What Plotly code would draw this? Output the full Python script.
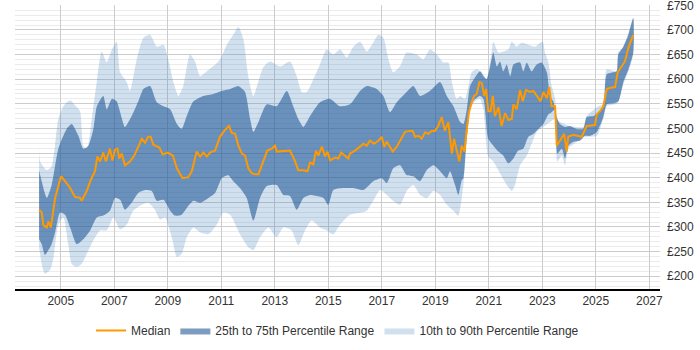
import plotly.graph_objects as go

# ---- data (year as decimal, value in GBP) ----
median_dates = [2004.19, 2004.29, 2004.35, 2004.48, 2004.54, 2004.63, 2004.79, 2004.91, 2005.01, 2005.16,
                2005.35, 2005.53, 2005.72, 2005.78, 2005.97, 2006.12, 2006.28, 2006.37, 2006.47, 2006.59,
                2006.69, 2006.84, 2006.93, 2007.03, 2007.12, 2007.19, 2007.28, 2007.40, 2007.59, 2007.75,
                2007.90, 2008.03, 2008.15, 2008.27, 2008.36, 2008.46, 2008.69, 2008.81, 2009.00, 2009.19,
                2009.34, 2009.55, 2009.77, 2009.90, 2010.08, 2010.21, 2010.33, 2010.46, 2010.58, 2010.77,
                2010.95, 2011.14, 2011.29, 2011.39, 2011.52, 2011.64, 2011.77, 2011.89, 2012.01, 2012.14,
                2012.26, 2012.39, 2012.57, 2012.72, 2012.89, 2013.01, 2013.07, 2013.45, 2013.57, 2013.76,
                2013.88, 2014.07, 2014.22, 2014.32, 2014.44, 2014.54, 2014.63, 2014.76, 2014.88, 2014.97,
                2015.07, 2015.25, 2015.38, 2015.48, 2015.63, 2015.75, 2015.81, 2016.00, 2016.19, 2016.31,
                2016.44, 2016.56, 2016.71, 2016.87, 2017.00, 2017.09, 2017.19, 2017.28, 2017.41, 2017.56,
                2017.75, 2017.87, 2018.06, 2018.16, 2018.24, 2018.37, 2018.49, 2018.62, 2018.74, 2018.87,
                2018.99, 2019.11, 2019.24, 2019.36, 2019.49, 2019.62, 2019.70, 2019.80, 2019.90, 2019.99,
                2020.09, 2020.18, 2020.26, 2020.36, 2020.45, 2020.55, 2020.65, 2020.74, 2020.83, 2020.90,
                2020.98, 2021.07, 2021.15, 2021.23, 2021.36, 2021.48, 2021.61, 2021.73, 2021.86, 2021.92,
                2022.04, 2022.17, 2022.27, 2022.39, 2022.54, 2022.67, 2022.79, 2022.94, 2023.04, 2023.17,
                2023.26, 2023.35, 2023.48, 2023.54, 2023.66, 2023.82, 2023.91, 2023.97, 2024.16, 2024.47,
                2024.66, 2024.97, 2025.04, 2025.16, 2025.28, 2025.41, 2025.53, 2025.72, 2025.82, 2025.97,
                2026.09, 2026.22, 2026.40]
median_values = [335, 329, 303, 299, 311, 299, 359, 385, 403, 393,
                 379, 361, 359, 353, 373, 395, 413, 443, 433, 451,
                 433, 459, 435, 457, 459, 439, 449, 425, 433, 445,
                 463, 479, 471, 483, 483, 467, 461, 447, 451, 445,
                 419, 399, 401, 413, 453, 443, 451, 443, 451, 455,
                 483, 497, 505, 491, 489, 465, 449, 445, 419, 409,
                 407, 407, 433, 455, 459, 465, 453, 455, 455, 433,
                 415, 415, 413, 431, 427, 455, 445, 463, 443, 453,
                 435, 441, 439, 451, 445, 439, 449, 455, 463, 469,
                 465, 475, 469, 475, 483, 463, 473, 465, 453, 463,
                 480, 493, 495, 495, 483, 485, 479, 492, 489, 495,
                 495, 505, 523, 495, 513, 449, 479, 455, 433, 465,
                 453, 499, 533, 553, 566, 570, 594, 592, 566, 580,
                 535, 535, 566, 525, 543, 505, 531, 517, 519, 549,
                 539, 578, 555, 578, 574, 576, 566, 555, 574, 561,
                 584, 545, 545, 465, 475, 489, 453, 483, 487, 483,
                 505, 507, 529, 535, 545, 580, 582, 584, 614, 626,
                 636, 664, 690]

p75_dates = [2004.19, 2004.48, 2004.66, 2004.91, 2005.22, 2005.41, 2005.66, 2005.84, 2006.03, 2006.22,
             2006.35, 2006.59, 2006.72, 2006.91, 2007.09, 2007.22, 2007.40, 2007.65, 2007.90, 2008.09,
             2008.34, 2008.59, 2008.84, 2009.09, 2009.34, 2009.52, 2009.71, 2009.96, 2010.33, 2010.70,
             2011.02, 2011.33, 2011.64, 2011.70, 2011.89, 2012.08, 2012.20, 2012.39, 2012.70, 2013.07,
             2013.45, 2013.69, 2013.88, 2014.07, 2014.32, 2014.69, 2015.07, 2015.44, 2015.81, 2016.19,
             2016.44, 2016.81, 2017.06, 2017.31, 2017.56, 2017.93, 2018.18, 2018.43, 2018.80, 2019.18,
             2019.43, 2019.68, 2019.93, 2020.05, 2020.18, 2020.30, 2020.49, 2020.67, 2020.80, 2020.92,
             2021.05, 2021.17, 2021.30, 2021.42, 2021.54, 2021.67, 2021.80, 2021.92, 2022.17, 2022.29,
             2022.42, 2022.60, 2022.79, 2022.98, 2023.17, 2023.29, 2023.41, 2023.54, 2023.66, 2023.85,
             2024.03, 2024.29, 2024.53, 2024.66, 2024.91, 2025.10, 2025.28, 2025.41, 2025.66, 2025.78,
             2025.84, 2026.03, 2026.22, 2026.40]
p75_values = [415, 359, 385, 459, 499, 509, 485, 459, 465, 499,
              545, 566, 539, 560, 555, 533, 503, 525, 555, 580,
              586, 553, 545, 539, 509, 499, 525, 555, 566, 570,
              576, 580, 586, 584, 574, 519, 493, 513, 549, 545,
              576, 545, 519, 503, 525, 553, 560, 545, 549, 576,
              586, 580, 566, 533, 553, 574, 586, 566, 576, 594,
              566, 545, 513, 509, 539, 586, 604, 616, 606, 600,
              626, 654, 626, 636, 616, 630, 606, 630, 634, 616,
              634, 616, 630, 634, 614, 566, 555, 523, 509, 503,
              505, 499, 499, 523, 525, 533, 543, 610, 614, 616,
              650, 666, 690, 724]

p25_dates = [2004.19, 2004.29, 2004.41, 2004.54, 2004.66, 2004.79, 2004.97, 2005.16, 2005.35, 2005.60,
             2005.84, 2006.10, 2006.35, 2006.59, 2006.84, 2007.03, 2007.22, 2007.40, 2007.65, 2007.90,
             2008.15, 2008.40, 2008.59, 2008.84, 2009.09, 2009.27, 2009.52, 2009.77, 2009.96, 2010.21,
             2010.52, 2010.77, 2011.02, 2011.26, 2011.45, 2011.70, 2011.95, 2012.20, 2012.45, 2012.70,
             2013.07, 2013.32, 2013.57, 2013.82, 2014.07, 2014.32, 2014.57, 2014.82, 2015.00, 2015.19,
             2015.56, 2015.94, 2016.31, 2016.68, 2017.00, 2017.19, 2017.43, 2017.68, 2017.93, 2018.18,
             2018.43, 2018.68, 2018.93, 2019.18, 2019.43, 2019.55, 2019.74, 2019.86, 2019.99, 2020.05,
             2020.15, 2020.25, 2020.30, 2020.49, 2020.67, 2020.80, 2020.98, 2021.17, 2021.36, 2021.54,
             2021.73, 2021.92, 2022.10, 2022.29, 2022.48, 2022.67, 2022.85, 2023.04, 2023.23, 2023.35,
             2023.48, 2023.56, 2023.73, 2023.85, 2023.97, 2024.16, 2024.41, 2024.60, 2024.78, 2025.04,
             2025.28, 2025.41, 2025.66, 2025.84, 2026.03, 2026.22, 2026.40]
p25_values = [275, 265, 243, 253, 265, 289, 329, 325, 299, 265,
              275, 293, 319, 323, 333, 359, 355, 335, 349, 369,
              375, 373, 353, 355, 333, 323, 325, 343, 353, 349,
              359, 369, 399, 405, 393, 379, 359, 313, 359, 383,
              385, 365, 363, 335, 359, 365, 363, 359, 345, 375,
              379, 379, 375, 393, 399, 389, 419, 425, 405, 403,
              393, 415, 425, 413, 399, 413, 385, 365, 395, 399,
              465, 520, 545, 560, 566, 560, 479, 465, 453, 445,
              429, 439, 455, 459, 483, 489, 499, 509, 529, 533,
              539, 449, 459, 439, 465, 473, 475, 485, 485, 493,
              523, 549, 551, 555, 594, 620, 654]

p90_dates = [2004.19, 2004.23, 2004.48, 2004.66, 2004.91, 2005.10, 2005.35, 2005.53, 2005.72, 2005.84,
             2005.99, 2006.16, 2006.35, 2006.53, 2006.72, 2006.91, 2007.09, 2007.22, 2007.47, 2007.59,
             2007.84, 2008.09, 2008.34, 2008.59, 2008.84, 2009.02, 2009.21, 2009.40, 2009.58, 2009.83,
             2010.02, 2010.21, 2010.46, 2010.70, 2010.95, 2011.21, 2011.45, 2011.64, 2011.83, 2012.01,
             2012.20, 2012.57, 2012.82, 2013.20, 2013.57, 2013.82, 2014.01, 2014.20, 2014.44, 2014.69,
             2014.94, 2015.19, 2015.44, 2015.69, 2015.94, 2016.19, 2016.44, 2016.68, 2016.87, 2017.06,
             2017.25, 2017.43, 2017.68, 2017.93, 2018.31, 2018.55, 2018.80, 2019.06, 2019.30, 2019.49,
             2019.62, 2019.80, 2019.93, 2020.11, 2020.24, 2020.36, 2020.55, 2020.74, 2020.92, 2021.11,
             2021.17, 2021.36, 2021.54, 2021.73, 2021.86, 2022.04, 2022.23, 2022.48, 2022.73, 2022.92,
             2023.02, 2023.10, 2023.23, 2023.35, 2023.48, 2023.54, 2023.66, 2024.03, 2024.53, 2024.66,
             2025.10, 2025.28, 2025.41, 2025.78, 2025.84, 2026.03, 2026.22, 2026.40]
p90_values = [469, 433, 415, 423, 519, 545, 557, 547, 535, 465,
              459, 519, 596, 656, 634, 660, 676, 614, 594, 576,
              640, 684, 690, 666, 670, 640, 594, 566, 586, 650,
              636, 606, 616, 626, 640, 670, 690, 706, 680, 606,
              566, 624, 636, 626, 636, 606, 574, 574, 600, 630,
              660, 650, 660, 644, 666, 676, 656, 674, 690, 684,
              640, 614, 626, 654, 650, 640, 660, 650, 634, 634,
              594, 560, 566, 560, 586, 614, 620, 614, 600, 656,
              676, 654, 656, 660, 676, 666, 674, 670, 666, 674,
              676, 654, 634, 586, 560, 519, 513, 505, 503, 525,
              545, 549, 620, 616, 654, 666, 694, 724]

p10_dates = [2004.19, 2004.29, 2004.41, 2004.60, 2004.72, 2004.91, 2005.10, 2005.28, 2005.41, 2005.60,
             2005.78, 2005.97, 2006.22, 2006.47, 2006.72, 2006.97, 2007.22, 2007.47, 2007.71, 2008.03,
             2008.27, 2008.52, 2008.71, 2008.90, 2009.15, 2009.34, 2009.52, 2009.71, 2009.96, 2010.21,
             2010.52, 2010.83, 2011.08, 2011.33, 2011.58, 2011.70, 2012.01, 2012.20, 2012.45, 2012.76,
             2013.07, 2013.32, 2013.63, 2013.88, 2014.13, 2014.38, 2014.69, 2014.94, 2015.19, 2015.44,
             2015.81, 2016.19, 2016.44, 2016.68, 2016.94, 2017.19, 2017.43, 2017.68, 2017.93, 2018.18,
             2018.43, 2018.68, 2018.93, 2019.18, 2019.43, 2019.68, 2019.86, 2020.05, 2020.18, 2020.30,
             2020.49, 2020.67, 2020.80, 2020.98, 2021.17, 2021.42, 2021.67, 2021.86, 2021.98, 2022.17,
             2022.42, 2022.60, 2022.79, 2023.04, 2023.29, 2023.48, 2023.56, 2023.73, 2023.85, 2023.97,
             2024.29, 2024.53, 2024.78, 2025.04, 2025.28, 2025.41, 2025.72, 2025.84, 2026.03, 2026.22,
             2026.40]
p10_values = [259, 225, 205, 213, 235, 305, 319, 265, 225, 219,
              225, 245, 273, 293, 293, 319, 295, 305, 333, 345,
              349, 335, 315, 319, 279, 239, 245, 279, 299, 289,
              285, 305, 329, 325, 299, 285, 259, 253, 279, 299,
              279, 299, 293, 263, 293, 313, 299, 293, 285, 305,
              325, 329, 333, 353, 375, 365, 353, 345, 373, 385,
              365, 359, 373, 365, 345, 333, 323, 385, 479, 539,
              555, 560, 539, 443, 433, 409, 385, 373, 385, 425,
              445, 469, 493, 503, 513, 519, 433, 445, 425, 459,
              473, 483, 483, 485, 519, 545, 549, 553, 590, 616,
              650]

x_ticks = [2005, 2007, 2009, 2011, 2013, 2015, 2017, 2019, 2021, 2023, 2025, 2027]
y_ticks = [200, 250, 300, 350, 400, 450, 500, 550, 600, 650, 700, 750]

FONT = "Liberation Sans, Arial, sans-serif"

fig = go.Figure()

fig.add_trace(go.Scatter(
    x=p90_dates + p10_dates[::-1], y=p90_values + p10_values[::-1],
    fill="toself", fillcolor="rgba(70,130,190,0.25)", mode="lines",
    line=dict(width=0, shape="spline", smoothing=0.6), name="10th to 90th Percentile Range", legendrank=3,
    hoverinfo="skip"))

fig.add_trace(go.Scatter(
    x=p75_dates + p25_dates[::-1], y=p75_values + p25_values[::-1],
    fill="toself", fillcolor="rgba(37,91,151,0.6)", mode="lines",
    line=dict(width=0, shape="spline", smoothing=0.6), name="25th to 75th Percentile Range", legendrank=2,
    hoverinfo="skip"))

fig.add_trace(go.Scatter(
    x=median_dates, y=median_values, mode="lines",
    line=dict(color="#ff9900", width=2), name="Median", legendrank=1))

fig.update_layout(
    width=700, height=350,
    margin=dict(l=15, r=40, t=5, b=58),
    paper_bgcolor="white", plot_bgcolor="white",
    font=dict(family=FONT, size=12, color="#333333"),
    showlegend=True,
    legend=dict(orientation="h", x=0.5, xanchor="center", y=-0.095, yanchor="top",
                font=dict(family=FONT, size=12, color="#333333"),
                traceorder="normal", itemwidth=30),
)

fig.update_xaxes(
    range=[2003.29, 2027.4], tickvals=x_ticks, ticktext=[str(v) for v in x_ticks],
    showgrid=True, gridcolor="#cccccc", gridwidth=1,
    showline=True, linecolor="#000000", linewidth=1.5,
    ticks="", zeroline=False, automargin=False,
    tickfont=dict(family=FONT, size=12, color="#333333"),
)

fig.update_yaxes(
    range=[174, 750.6], side="right", tickvals=y_ticks,
    ticktext=["£" + str(v) for v in y_ticks],
    showgrid=True, gridcolor="#cccccc", gridwidth=1,
    minor=dict(dtick=10, tick0=0, showgrid=True, gridcolor="#ebebeb", gridwidth=1),
    showline=False, ticks="", zeroline=False, automargin=False,
    tickfont=dict(family=FONT, size=12, color="#333333"),
    ticklabelstandoff=6, ticklabeloverflow="allow",
)

fig.write_html("out.html")
